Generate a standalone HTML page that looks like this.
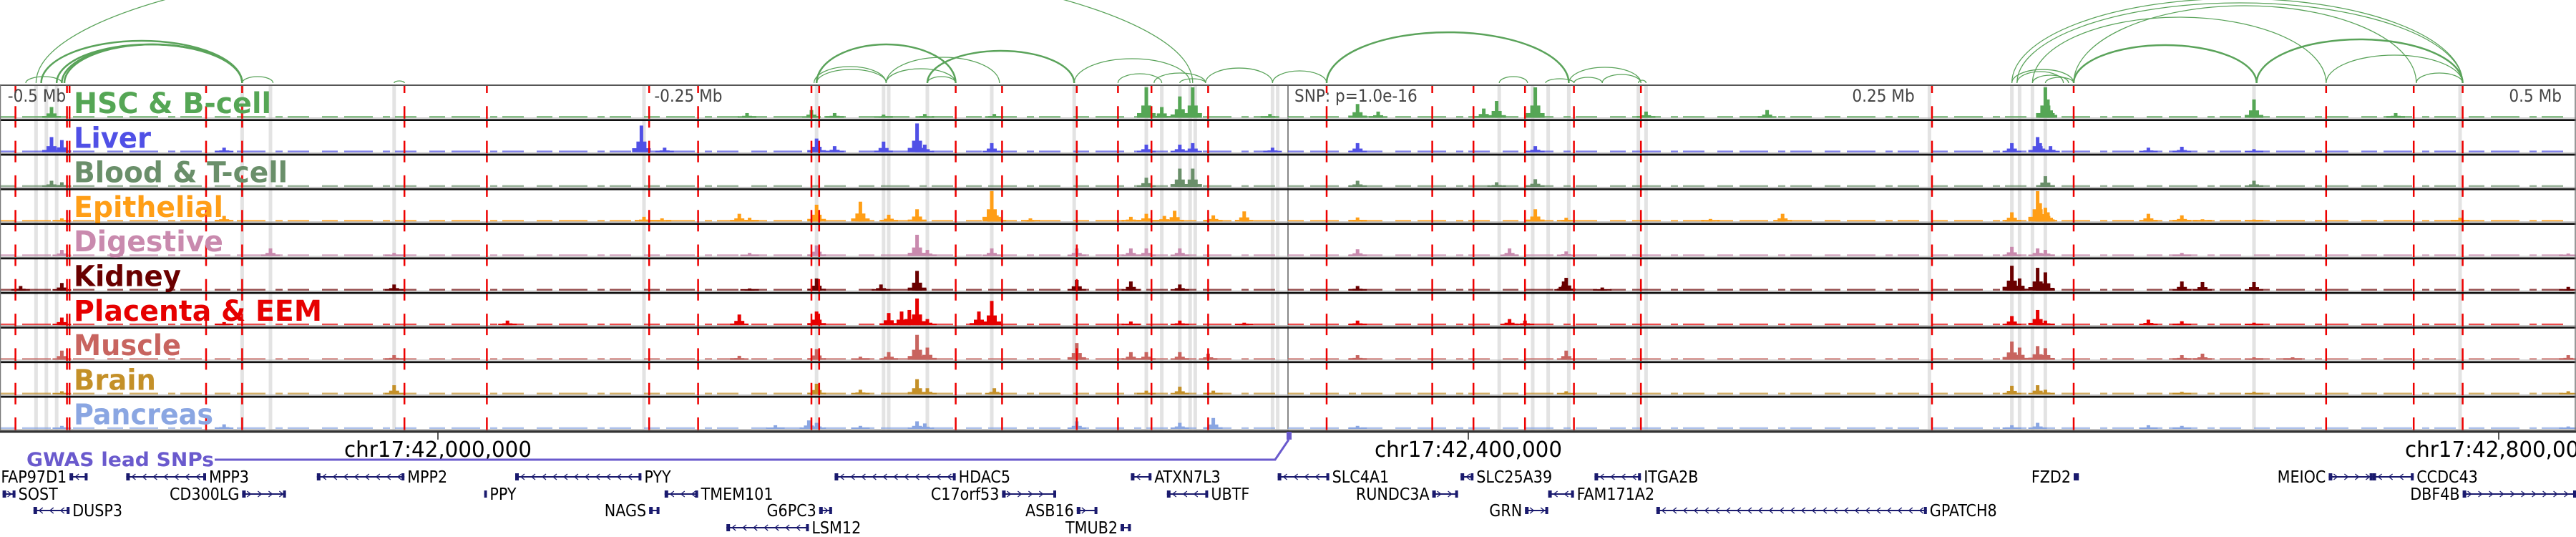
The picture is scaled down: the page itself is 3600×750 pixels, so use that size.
<!DOCTYPE html>
<html><head><meta charset="utf-8">
<style>
html,body{margin:0;padding:0;background:#fff;}
svg{display:block;}
text{font-family:"DejaVu Sans Condensed","DejaVu Sans","Liberation Sans",sans-serif;}
</style></head>
<body>
<svg id="chart" xmlns="http://www.w3.org/2000/svg" width="3600" height="750" viewBox="0 0 3600 750">
  <g id="arcs"></g>
  <g id="bands"></g>
  <g id="signals"></g>
  <g id="redlines"></g>
  <g id="frame"></g>
  <g id="labels"></g>
  <g id="axis"></g>
  <g id="gwas"></g>
  <g id="genes"></g>
</svg>
<script>
// ---------- data (positions in kb relative to chr17:42,000,000) ----------
const trackNames = ["HSC & B-cell","Liver","Blood & T-cell","Epithelial","Digestive","Kidney","Placenta & EEM","Muscle","Brain","Pancreas"];
const trackColors = ["#55a655","#5050e6","#6a8f6a","#ff9e16","#c98aae","#6a0000","#e60000","#c8645f","#c49028","#8aa6e2"];
const labelWidths = [276,108,299,209,209,150,347,150,115,195];

const hscPeaks = [[-150,.35],[120,.15],[145,.25],[154,.15],[173,.1],[189,.12],[216,.12],[275,1],[281,.35],[288,.7],[293,1],[323,.12],[357,.45],[365,.2],[406,.3],[411,.55],[426,1],[469,.2],[516,.25],[624,1],[625,.6],[705,.6],[760,.15]];
const liverPeaks = [[-150,.5],[-146,.4],[-83,.15],[79,.88],[88,.15],[147,.45],[154,.2],[173,.35],[186,.95],[189,.25],[215,.3],[275,.25],[288,.25],[293,.3],[324,.15],[357,.3],[426,.2],[611,.3],[621,.5],[622,.3],[626,.2],[664,.15],[677,.18],[705,.1]];
const bloodPeaks = [[-150,.2],[-146,.15],[275,.3],[288,.6],[293,.6],[357,.2],[411,.15],[426,.25],[624,.35],[705,.2]];
const epithelialPeaks = [[-146,.1],[-83,.18],[80,.15],[87,.1],[117,.25],[121,.12],[147,.55],[164,.65],[175,.22],[186,.4],[215,1],[217,.2],[230,.1],[269,.15],[275,.25],[282,.18],[286,.35],[301,.2],[313,.33],[357,.13],[426,.4],[438,.12],[494,.08],[522,.25],[611,.3],[621,1],[622,.6],[624,.45],[625,.3],[664,.25],[677,.2],[685,.07],[705,.06],[785,.12]];
const digestivePeaks = [[-146,.2],[-65,.25],[-17,.1],[121,.1],[147,.35],[186,.7],[190,.2],[215,.25],[248,.25],[269,.25],[275,.25],[288,.25],[357,.22],[416,.25],[438,.15],[611,.3],[621,.25],[624,.2],[677,.1],[827,.08]];
const kidneyPeaks = [[-162,.15],[-146,.25],[-17,.2],[121,.07],[147,.4],[172,.2],[186,.65],[248,.35],[269,.3],[288,.2],[357,.15],[437,.3],[438,.42],[452,.1],[611,.82],[614,.4],[621,.75],[624,.6],[677,.3],[685,.28],[705,.28],[827,.12]];
const placentaPeaks = [[-146,.25],[-83,.1],[27,.15],[117,.35],[147,.45],[175,.4],[180,.45],[183,.5],[186,.88],[190,.2],[210,.45],[215,.8],[269,.12],[288,.15],[313,.08],[357,.15],[416,.2],[422,.15],[611,.3],[621,.5],[624,.15],[664,.18],[677,.13],[705,.08]];
const musclePeaks = [[-146,.3],[-17,.15],[117,.13],[147,.35],[164,.1],[175,.25],[186,.82],[190,.4],[248,.55],[269,.25],[275,.25],[288,.25],[299,.2],[357,.15],[438,.3],[611,.6],[614,.4],[621,.45],[624,.38],[677,.15],[685,.2],[705,.08],[720,.08],[827,.15]];
const brainPeaks = [[-146,.1],[-17,.3],[147,.35],[164,.15],[186,.5],[190,.2],[216,.2],[275,.12],[288,.25],[301,.12],[438,.1],[611,.28],[621,.3],[624,.15],[677,.08],[705,.08],[827,.1]];
const pancreasPeaks = [[-146,.1],[-83,.15],[131,.12],[144,.28],[147,.2],[164,.1],[186,.25],[189,.18],[248,.25],[288,.2],[301,.36],[357,.1],[611,.12],[621,.2],[664,.12],[677,.1],[827,.08]];
const allPeaks = [hscPeaks,liverPeaks,bloodPeaks,epithelialPeaks,digestivePeaks,kidneyPeaks,placentaPeaks,musclePeaks,brainPeaks,pancreasPeaks];

const redLinePos = [-164,-144,-143,-90,-76,-13,19,82,101,145,148,201,219,248,264,277,299,345,386,402,422,441,467,580,635,733,767,786];
const grayBandPos = [-156,-152,-148,-76,-65,-17,80,147,173,175,190,215,247,275,281,288,292,294,324,326,412,425,431,439,466,469,579,611,614,619,624,705,785];
const snpPos = 330;

const arcStart = [-160,-154,-148,-146,-145,-76,-17,-156,146,147,147,174,174,190,190,247,264,278,288,298,324,345,412,430,439,441,452,466,611,613,635,619,635,706,733,768,611,613,619,624];
const arcEnd   = [-146,-76,-76,-76,-76,-64,-13,293,174,201,174,218,201,247,201,292,281,298,298,324,345,439,423,441,467,452,467,469,786,786,768,733,706,786,786,786,635,631,633,635];
const arcScore = [9,59,54,54,54,9,3,185,23,54,19,36,20,45,9,34,13,14,6,21,17,71,9,6,22,8,12,4,118,112,108,92,53,61,39,14,19,16,11,8];

const axisTicks = [0,400,800];
const axisTickLabels = ["chr17:42,000,000","chr17:42,400,000","chr17:42,800,000"];
const topLabels = ["-0.5 Mb","-0.25 Mb","SNP: p=1.0e-16","0.25 Mb","0.5 Mb"];
const topLabelPos = [-167,84,332.5,549,804];

const geneNames  = ["FAP97D1","SOST","DUSP3","MPP3","CD300LG","MPP2","PPY","PYY","TMEM101","NAGS","G6PC3","LSM12","HDAC5","C17orf53","ASB16","TMUB2","ATXN7L3","UBTF","SLC4A1","RUNDC3A","SLC25A39","GRN","ITGA2B","FAM171A2","GPATCH8","FZD2","MEIOC","CCDC43","DBF4B"];
const geneStart  = [-143,-169,-157,-121,-76,-47,18,30,88,82,148,112,154,219,248,265,269,283,326,386,397,422,449,431,473,635,734,751,786];
const geneEnd    = [-136,-164,-143,-90,-59,-13,19,79,101,86,153,144,201,240,256,269,277,299,346,396,402,431,467,441,578,637,751,767,830];
const geneStrand = [-1,1,-1,-1,1,-1,1,-1,-1,1,1,-1,-1,1,1,1,-1,-1,-1,1,-1,1,-1,-1,-1,1,1,-1,1];
const geneRow    = [0,1,2,0,1,0,1,0,1,2,2,3,0,1,2,3,0,1,0,1,0,2,0,1,2,0,0,0,1];
const geneLabelLeft = [1,0,0,0,1,0,0,0,0,1,1,0,0,1,1,1,0,0,0,1,0,1,0,0,0,1,1,0,1];

// ---------- layout ----------
const NS = "http://www.w3.org/2000/svg";
const PX_PER_KB = 3.6, X0 = 612;
function X(kb){ return X0 + kb*PX_PER_KB; }
const TOP = 119, TH = 48.3, NT = 10, BOTTOM = TOP + TH*NT;
function trackTop(i){ return TOP + i*TH; }
function mk(tag, attrs, parent){ const e=document.createElementNS(NS,tag); for(const k in attrs) e.setAttribute(k,attrs[k]); parent.appendChild(e); return e; }

// arcs
const gArcs = document.getElementById('arcs');
const ARC_BASE = 116;
for (let i=0;i<arcStart.length;i++){
  const x1=X(arcStart[i]), x2=X(arcEnd[i]), rx=(x2-x1)/2, ry=arcScore[i];
  const p = mk('path',{d:`M${x1},${ARC_BASE} A${rx},${ry} 0 0 1 ${x2},${ARC_BASE}`,fill:'none',stroke:'#5aa35a','stroke-width':(ry>40&&ry<80)?2.5:1.3},gArcs);
  
  
}

// gray bands
const gBands = document.getElementById('bands');
grayBandPos.forEach(kb=>{
  const r = mk('rect',{x:X(kb)-2.5,y:TOP,width:5,height:BOTTOM-TOP,fill:'#e3e3e3'},gBands);
  
  
});
const snpLine = mk('line',{x1:X(snpPos),x2:X(snpPos),y1:TOP,y2:BOTTOM,stroke:'#888','stroke-width':2},gBands);



// signals
const gSig = document.getElementById('signals');
for (let t=0;t<NT;t++){
  const base = trackTop(t)+TH-3;
  const g = mk('g',{},gSig);
  
  
  mk('line',{x1:0,x2:3600,y1:base-1,y2:base-1,stroke:trackColors[t],'stroke-width':2.5,opacity:0.7,'stroke-dasharray':'22 9 40 14 10 7 30 18'},g);
  mk('line',{x1:0,x2:3600,y1:base+0.5,y2:base+0.5,stroke:'#bbb','stroke-width':1},g);
  allPeaks[t].forEach(([kb,h])=>{
    const H = h*(TH-6), x = X(kb);
    mk('rect',{x:x-13,y:base-Math.max(2,H*0.15),width:26,height:Math.max(2,H*0.15),fill:trackColors[t]},g);
    mk('rect',{x:x-7,y:base-H*0.4,width:14,height:H*0.4,fill:trackColors[t]},g);
    const b = mk('rect',{x:x-2.5,y:base-H,width:5,height:H,fill:trackColors[t]},g);
    
    
  });
}

// red dashed lines
const gRed = document.getElementById('redlines');
redLinePos.forEach(kb=>{
  const l = mk('line',{x1:X(kb),x2:X(kb),y1:TOP,y2:BOTTOM,stroke:'#e00','stroke-width':2.5,'stroke-dasharray':'30 18.3','stroke-dashoffset':19},gRed);
  
  
});

// frame
const gFrame = document.getElementById('frame');
mk('line',{x1:0,x2:3600,y1:TOP,y2:TOP,stroke:'#555','stroke-width':2},gFrame);
for (let t=0;t<NT;t++){
  const y = trackTop(t)+TH;
  mk('line',{x1:0,x2:3600,y1:y-1,y2:y-1,stroke:'#999','stroke-width':1},gFrame);
  mk('line',{x1:0,x2:3600,y1:y+0.5,y2:y+0.5,stroke:'#111','stroke-width':2.5},gFrame);
}
mk('line',{x1:0.5,x2:0.5,y1:TOP,y2:BOTTOM,stroke:'#777','stroke-width':1.5},gFrame);
mk('line',{x1:3599,x2:3599,y1:TOP,y2:BOTTOM,stroke:'#777','stroke-width':1.5},gFrame);

// top position labels
const gLab = document.getElementById('labels');
topLabels.forEach((s,i)=>{
  const tx = mk('text',{x:X(topLabelPos[i]),y:142,'font-size':24,fill:'#444'},gLab);
  tx.textContent = s;
  
  
});
// track labels
trackNames.forEach((s,i)=>{
  const tx = mk('text',{x:103,y:trackTop(i)+39,'font-size':40,'font-weight':'bold',fill:trackColors[i],textLength:labelWidths[i],lengthAdjust:'spacingAndGlyphs'},gLab);
  tx.textContent = s;
  
  
});

// bottom axis
const gAx = document.getElementById('axis');
mk('line',{x1:0,x2:3600,y1:BOTTOM+1,y2:BOTTOM+1,stroke:'#333','stroke-width':3},gAx);
axisTicks.forEach((kb,i)=>{
  const tk = mk('line',{x1:X(kb),x2:X(kb),y1:BOTTOM+2,y2:BOTTOM+12,stroke:'#222','stroke-width':1.5},gAx);
  
  
  const tx = mk('text',{x:X(kb),y:638,'font-size':30,'text-anchor':'middle',fill:'#000',textLength:262,lengthAdjust:'spacingAndGlyphs'},gAx);
  tx.textContent = axisTickLabels[i];
  
  
});

// GWAS track
const gG = document.getElementById('gwas');
const gl = mk('text',{x:37,y:651,'font-size':27,'font-weight':'bold',fill:'#6a5acd',textLength:262,lengthAdjust:'spacingAndGlyphs'},gG);
gl.textContent = "GWAS lead SNPs";


const gp = mk('polyline',{points:`300,642 ${X(snpPos)-18},642 ${X(snpPos)+1},614`,fill:'none',stroke:'#6a5acd','stroke-width':3},gG);


const gm = mk('rect',{x:X(snpPos)-2,y:603,width:7,height:11,fill:'#6a5acd'},gG);



// genes
const gGenes = document.getElementById('genes');
const rowY = [666,690,713,737];
const GC = '#1a1a6e';
for (let i=0;i<geneNames.length;i++){
  const g = mk('g',{},gGenes);
  
  
  const x1=X(geneStart[i]), x2=Math.min(X(geneEnd[i]),3600), y=rowY[geneRow[i]];
  mk('line',{x1:x1,x2:x2,y1:y,y2:y,stroke:GC,'stroke-width':2},g);
  const w = x2-x1;
  mk('rect',{x:x1,y:y-5,width:Math.min(5,w),height:10,fill:GC},g);
  mk('rect',{x:Math.max(x1,x2-4),y:y-5,width:Math.min(4,w),height:10,fill:GC},g);
  for (let cx=x1+10; cx<x2-6; cx+=15){
    const d = geneStrand[i]>0 ? `M${cx-3},${y-4} L${cx+2},${y} L${cx-3},${y+4}` : `M${cx+3},${y-4} L${cx-2},${y} L${cx+3},${y+4}`;
    mk('path',{d:d,fill:'none',stroke:GC,'stroke-width':1.3},g);
  }
  const left = geneLabelLeft[i]===1;
  const tx = mk('text',{x:left?x1-4:x2+4,y:y+8,'font-size':23,fill:'#000','text-anchor':left?'end':'start'},g);
  tx.textContent = geneNames[i];
}
</script>
</body></html>
